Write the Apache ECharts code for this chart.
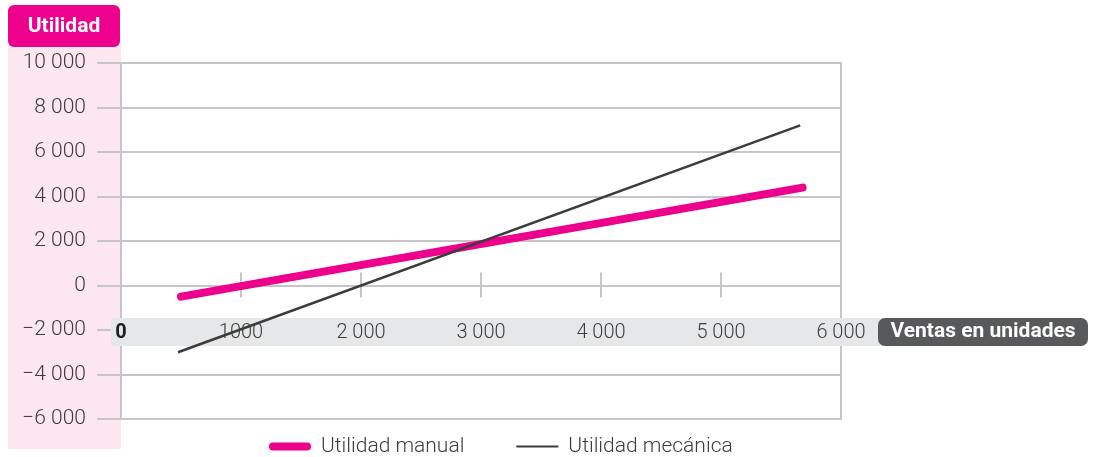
<!DOCTYPE html>
<html>
<head>
<meta charset="utf-8">
<script src="https://cdn.jsdelivr.net/npm/echarts@6/dist/echarts.min.js"></script>
<style>
  html, body { margin: 0; padding: 0; background: #fff; }
  #chart { width: 1094px; height: 457px; }
</style>
</head>
<body>
<div id="chart"></div>
<script>
  // valores
  var seriesNames = ["Utilidad manual", "Utilidad mecánica"];
  var manualData = [[500, -500], [5680, 4400]];
  var mecanicaData = [[475, -3000], [5660, 7200]];
  var xTickLabels = ["0", "1000", "2 000", "3 000", "4 000", "5 000", "6 000"];
  var yTickLabels = ["\u22126 000", "\u22124 000", "\u22122 000", "0", "2 000", "4 000", "6 000", "8 000", "10 000"];
  var yTitle = "Utilidad";
  var xTitle = "Ventas en unidades";

  var grey = "#c6c6c8";
  var pink = "#ec008c";
  var dark = "#3c3c3c";
  var txt = "#3d3d3d";
  var font = "Roboto";

  // el eje x va sobre la linea del 0: 356px de alto, 6000 de 16000 bajo el cero
  var zeroOffset = -356 * 6000 / 16000;

  var chart = echarts.init(document.getElementById("chart"));
  chart.setOption({
    animation: false,
    textStyle: { fontFamily: font },
    grid: {
      left: 121, right: 253, top: 63, bottom: 38,
      outerBoundsMode: "none",
      containLabel: false,
      show: true, borderColor: grey, borderWidth: 2, backgroundColor: "transparent"
    },
    legend: {
      left: 264,
      top: 431,
      itemWidth: 42,
      itemHeight: 8,
      itemGap: 52,
      textStyle: { fontSize: 21, color: txt, fontFamily: font, fontWeight: 300, padding: [0, 0, 0, 5] },
      data: [
        { name: seriesNames[0], icon: "path://M4,0 L38,0 A4,4 0 0 1 38,8 L4,8 A4,4 0 0 1 4,0 Z" },
        { name: seriesNames[1], icon: "path://M0,0 L40,0 L40,2 L0,2 Z" }
      ]
    },
    xAxis: [{
      type: "value",
      position: "bottom",
      offset: zeroOffset,
      min: 0,
      max: 6000,
      interval: 1000,
      z: 3,
      axisLine: { show: false, onZero: false },
      axisTick: { show: true, length: 12, lineStyle: { color: grey, width: 2 } },
      splitLine: { show: false },
      axisLabel: {
        margin: 37,
        fontSize: 20,
        fontWeight: 300,
        color: txt,
        formatter: function (v) {
          var i = Math.round(v / 1000);
          return i === 0 ? "{b|" + xTickLabels[0] + "}" : xTickLabels[i];
        },
        rich: { b: { fontSize: 20, fontWeight: "bold", color: "#1f1f1f", fontFamily: font } }
      }
    }, {
      type: "value",
      position: "bottom",
      offset: zeroOffset,
      min: 0,
      max: 6000,
      interval: 1000,
      z: 3,
      axisLine: { show: false, onZero: false },
      axisTick: { show: true, inside: true, length: 13, lineStyle: { color: grey, width: 2 } },
      axisLabel: { show: false },
      splitLine: { show: false }
    }],
    yAxis: {
      type: "value",
      min: -6000,
      max: 10000,
      interval: 2000,
      z: 1,
      axisLine: { show: true, onZero: false, lineStyle: { color: grey, width: 2 } },
      axisTick: { show: true, length: 24, lineStyle: { color: grey, width: 2 } },
      splitLine: { show: true, lineStyle: { color: grey, width: 2 } },
      axisLabel: {
        margin: 35,
        fontSize: 21,
        fontWeight: 300,
        color: txt,
        formatter: function (v) {
          return yTickLabels[Math.round((v + 6000) / 2000)];
        }
      }
    },
    graphic: [
      // franja rosa del eje y
      { type: "rect", z: 0, shape: { x: 8, y: 44, width: 113, height: 405 }, style: { fill: "#fce6ef" } },
      { type: "rect", z: 5, shape: { x: 8, y: 5, width: 112, height: 42, r: 6 }, style: { fill: pink } },
      { type: "text", z: 6, x: 64, y: 27, style: { text: yTitle, fill: "#fff", font: "bold 21px " + font, align: "center", verticalAlign: "middle" } },
      // franja gris de etiquetas x
      { type: "rect", z: 2, shape: { x: 111, y: 318, width: 772, height: 28 }, style: { fill: "#e6e7e8" } },
      { type: "rect", z: 5, shape: { x: 878, y: 318, width: 210, height: 28, r: 7 }, style: { fill: "#58595b" } },
      { type: "text", z: 6, x: 983, y: 332, style: { text: xTitle, fill: "#fff", font: "bold 21px " + font, align: "center", verticalAlign: "middle" } }
    ],
    series: [{
      name: seriesNames[0],
      type: "line",
      z: 4,
      symbol: "none",
      data: manualData,
      color: pink,
      lineStyle: { width: 8, cap: "round", color: pink }
    }, {
      name: seriesNames[1],
      type: "line",
      z: 4,
      symbol: "none",
      data: mecanicaData,
      color: dark,
      lineStyle: { width: 2.5, color: dark }
    }]
  });
</script>
</body>
</html>
